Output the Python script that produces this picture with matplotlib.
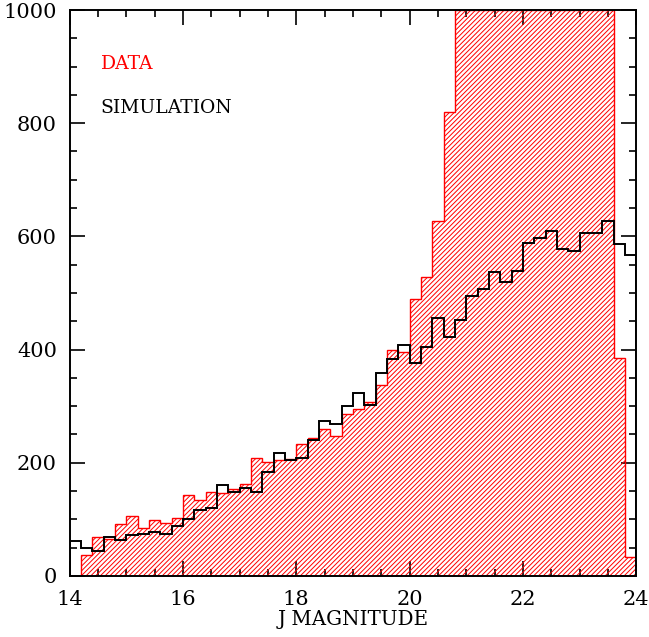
import numpy as np
import matplotlib
matplotlib.use("Agg")
import matplotlib.pyplot as plt
from matplotlib.ticker import MultipleLocator

# J-band magnitude bins, 0.2 mag wide from 14 to 24
bin_lo, bin_hi, bin_width = 14.0, 24.0, 0.2

# Observed counts per bin (bins 34-47 run off the top of the plot, shown at the limit)
data_counts = [0, 37, 69, 65, 92, 106, 85, 99, 94, 102,
               143, 134, 148, 146, 153, 162, 209, 202, 205, 206,
               234, 243, 260, 247, 287, 295, 307, 337, 400, 395,
               489, 528, 628, 820, 1000, 1000, 1000, 1000, 1000, 1000,
               1000, 1000, 1000, 1000, 1000, 1000, 1000, 1000, 385, 33]

# Simulated counts per bin
sim_counts = [61, 50, 45, 69, 63, 72, 74, 78, 75, 88,
              100, 117, 120, 160, 149, 156, 149, 183, 217, 205,
              209, 240, 273, 268, 300, 323, 302, 358, 383, 408,
              376, 405, 456, 422, 452, 495, 507, 537, 519, 539,
              589, 598, 610, 578, 574, 606, 606, 627, 587, 567]

x_ticks = [14, 16, 18, 20, 22, 24]
y_ticks = [0, 200, 400, 600, 800, 1000]

plt.rcParams["font.family"] = ["DejaVu Serif"]
plt.rcParams["hatch.linewidth"] = 0.7

edges = np.linspace(bin_lo, bin_hi, len(data_counts) + 1)

fig = plt.figure(figsize=(6.49, 6.37), dpi=100)
ax = fig.add_axes([0.1071, 0.0958, 0.8732, 0.8885])

ax.stairs(data_counts, edges, fill=True, facecolor="none",
          edgecolor="red", hatch="///////", linewidth=1.0, zorder=2)
ax.stairs(sim_counts, edges, color="black", linewidth=1.4, zorder=3)

ax.set_xlim(bin_lo, bin_hi)
ax.set_ylim(0, 1000)
ax.set_xticks(x_ticks)
ax.set_yticks(y_ticks)
ax.xaxis.set_minor_locator(MultipleLocator(0.5))
ax.yaxis.set_minor_locator(MultipleLocator(50))
ax.tick_params(which="both", direction="in", top=True, right=True,
               width=1.2, labelsize=15)
ax.tick_params(which="major", length=10.5)
ax.tick_params(which="minor", length=5)
ax.tick_params(axis="y", pad=9)
ax.tick_params(axis="x", pad=10)
for s in ax.spines.values():
    s.set_linewidth(1.4)

ax.set_xlabel("J MAGNITUDE", fontsize=14.3, labelpad=1)

ax.text(0.055, 0.905, "DATA", color="red", fontsize=13.5,
        transform=ax.transAxes, va="center", ha="left")
ax.text(0.055, 0.827, "SIMULATION", color="black", fontsize=13.5,
        transform=ax.transAxes, va="center", ha="left")

fig.savefig("out.png", dpi=100)
